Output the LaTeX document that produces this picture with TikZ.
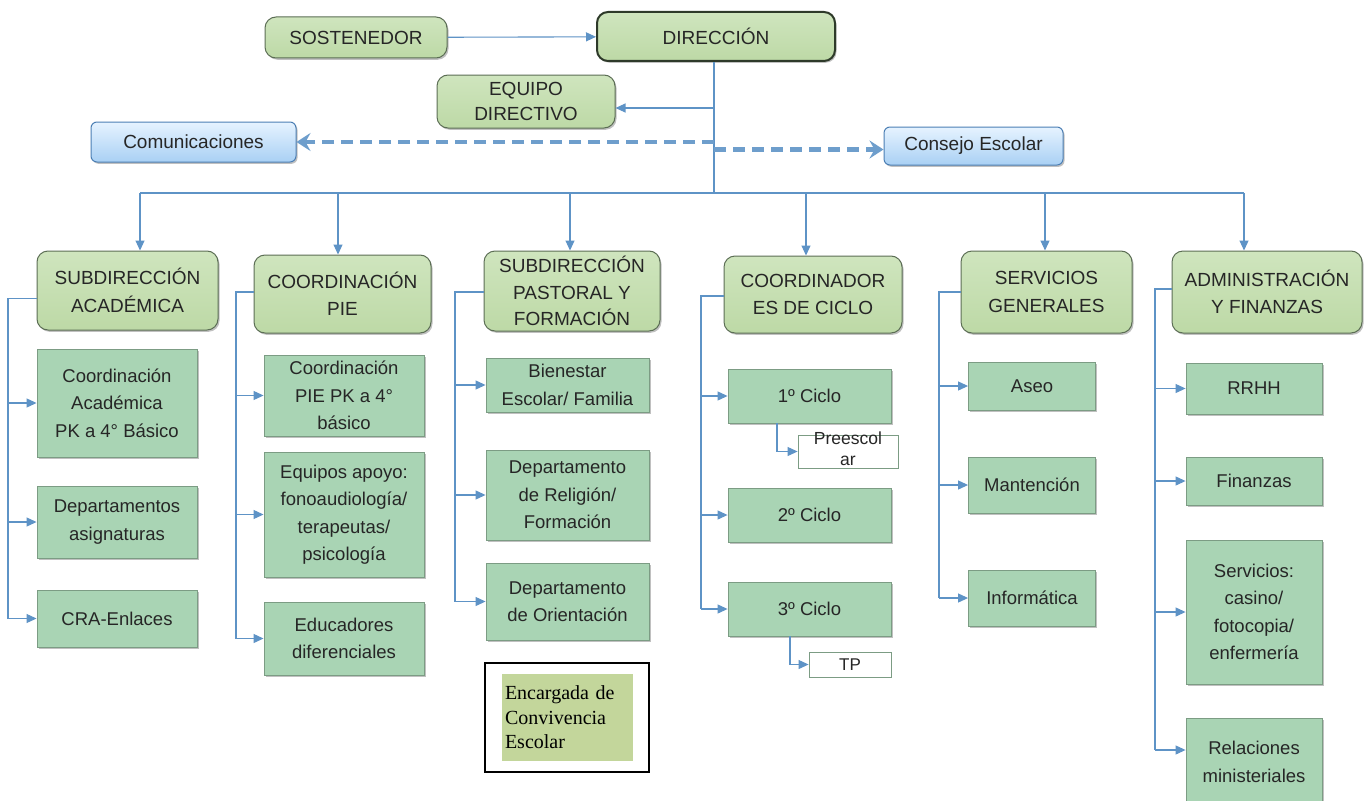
\documentclass[tikz,border=0pt]{standalone}
\usepackage{fontspec}
\setmainfont{Liberation Sans}
\newfontfamily\timesfont{Liberation Serif}
\usetikzlibrary{arrows.meta,shadows,calc}
\definecolor{connc}{HTML}{5E93C6}
\definecolor{hdrA}{HTML}{CFE5BE}
\definecolor{hdrB}{HTML}{BDD9A6}
\definecolor{hdrD}{HTML}{5C6E55}
\definecolor{dirD}{HTML}{2E3A2A}
\definecolor{subF}{HTML}{A9D4B4}
\definecolor{subD}{HTML}{7C9C84}
\definecolor{bluA}{HTML}{E6F3FF}
\definecolor{bluB}{HTML}{A9D0F4}
\definecolor{bluD}{HTML}{4C7FB4}
\definecolor{txt}{HTML}{262626}
\definecolor{encF}{HTML}{C3D69B}
\begin{document}
\begin{tikzpicture}[x=1pt,y=-1pt,
  shd/.style={drop shadow={shadow xshift=1.5pt,shadow yshift=-1.8pt,opacity=.35,fill=black!70}},
  hdr/.style={shd,rounded corners=11pt,top color=hdrA,bottom color=hdrB,draw=hdrD,line width=1pt,
    align=center,text=txt,font=\fontsize{19}{27.5}\selectfont,inner sep=2pt},
  subbox/.style={shd,fill=subF,draw=subD,line width=0.9pt,align=center,text=txt,
    font=\fontsize{18.5}{27.5}\selectfont,inner sep=2pt},
  whitebox/.style={fill=white,draw=subD,line width=0.9pt,align=center,text=txt,
    font=\fontsize{17}{18}\selectfont,inner sep=0pt},
  bluebox/.style={shd,rounded corners=6pt,top color=bluA,bottom color=bluB,draw=bluD,line width=1pt,
    align=center,text=txt,font=\fontsize{19}{24}\selectfont,inner sep=2pt},
  conn/.style={draw=connc,line width=1.1pt},
  arr/.style={conn,-{Triangle[length=10pt,width=9pt]}},
  dasharr/.style={draw=connc!90,line width=4.6pt,dash pattern=on 12pt off 7pt,
    -{Stealth[length=14pt,width=18pt,inset=5pt]}}
]
\useasboundingbox (0,0) rectangle (1372,800);
\fill[white] (0,0) rectangle (1372,800);

% top
\node[hdr,minimum width=182pt,minimum height=41pt] (sost) at (356,37.5) {SOSTENEDOR};
\node[hdr,draw=dirD,line width=2pt,minimum width=238pt,minimum height=49pt] (dir) at (716,36.5) {DIRECCIÓN};
\node[hdr,minimum width=178pt,minimum height=53pt,font=\fontsize{19}{25}\selectfont] (eq) at (526,101.5) {EQUIPO\\DIRECTIVO};
\node[bluebox,minimum width=205pt,minimum height=40pt] (com) at (193.5,142) {Comunicaciones};
\node[bluebox,minimum width=179pt,minimum height=38pt] (cons) at (973.5,146) {Consejo Escolar};

% headers
\node[hdr,minimum width=181pt,minimum height=79pt] (sa) at (127.5,290.5) {SUBDIRECCIÓN\\ACADÉMICA};
\node[hdr,minimum width=177pt,minimum height=78pt] (cp) at (342.5,294) {COORDINACIÓN\\PIE};
\node[hdr,minimum width=176pt,minimum height=80pt,font=\fontsize{19}{26.5}\selectfont] (sp) at (572,291) {SUBDIRECCIÓN\\PASTORAL Y\\FORMACIÓN};
\node[hdr,minimum width=178pt,minimum height=77pt] (cc) at (813,294.5) {COORDINADOR\\ES DE CICLO};
\node[hdr,minimum width=171pt,minimum height=82pt] (sg) at (1046.5,292) {SERVICIOS\\GENERALES};
\node[hdr,minimum width=190pt,minimum height=82pt] (af) at (1267,292) {ADMINISTRACIÓN\\Y FINANZAS};

% column 1
\node[subbox,minimum width=160pt,minimum height=108pt] (a1) at (117,403) {Coordinación\\Académica\\PK a 4° Básico};
\node[subbox,minimum width=160pt,minimum height=72pt] (a2) at (117,522) {Departamentos\\asignaturas};
\node[subbox,minimum width=160pt,minimum height=57pt] (a3) at (117,618.5) {CRA-Enlaces};
% column 2
\node[subbox,minimum width=160pt,minimum height=81pt] (b1) at (344,395.5) {Coordinación\\PIE PK a 4°\\básico};
\node[subbox,minimum width=160pt,minimum height=125pt] (b2) at (344,514.5) {Equipos apoyo:\\fonoaudiología/\\terapeutas/\\psicología};
\node[subbox,minimum width=160pt,minimum height=73pt] (b3) at (344,638.5) {Educadores\\diferenciales};
% column 3
\node[subbox,minimum width=163pt,minimum height=54pt] (c1) at (567.5,385) {Bienestar\\Escolar/ Familia};
\node[subbox,minimum width=163pt,minimum height=90pt] (c2) at (567.5,495) {Departamento\\de Religión/\\Formación};
\node[subbox,minimum width=163pt,minimum height=77pt] (c3) at (567.5,601.5) {Departamento\\de Orientación};
\node[draw=black,line width=1.5pt,fill=white,minimum width=164pt,minimum height=109pt] (encb) at (567,717.5) {};
\node[fill=encF,minimum width=131pt,minimum height=87pt,text width=125pt,align=left,inner sep=3pt,
  font=\timesfont\fontsize{20}{24.5}\selectfont,text=black] (enc) at (567.5,717.5) {Encargada de\\Convivencia\\Escolar};
% column 4
\node[subbox,minimum width=163pt,minimum height=54pt] (d1) at (809.5,396) {1º Ciclo};
\node[whitebox,minimum width=100pt,minimum height=33pt] (pre) at (848,451.5)
  {\raisebox{-4pt}[0pt][0pt]{\fontsize{17.5}{21}\selectfont\begin{tabular}{@{}c@{}}Preescol\\ar\end{tabular}}};
\node[subbox,minimum width=163pt,minimum height=54pt] (d2) at (809.5,515) {2º Ciclo};
\node[subbox,minimum width=163pt,minimum height=54pt] (d3) at (809.5,609) {3º Ciclo};
\node[whitebox,minimum width=82pt,minimum height=25pt] (tp) at (850,664.5) {TP};
% column 5
\node[subbox,minimum width=127pt,minimum height=48pt] (e1) at (1032,386) {Aseo};
\node[subbox,minimum width=127pt,minimum height=56pt] (e2) at (1032,485) {Mantención};
\node[subbox,minimum width=127pt,minimum height=56pt] (e3) at (1032,598) {Informática};
% column 6
\node[subbox,minimum width=136pt,minimum height=51pt] (f1) at (1254,388.5) {RRHH};
\node[subbox,minimum width=136pt,minimum height=48pt] (f2) at (1254,481) {Finanzas};
\node[subbox,minimum width=136pt,minimum height=144pt] (f3) at (1254,612) {Servicios:\\casino/\\fotocopia/\\enfermería};
\node[subbox,minimum width=136pt,minimum height=88pt] (f4) at (1254,762) {Relaciones\\ministeriales};

% top connectors
\draw[arr] (sost) -- (dir);
\coordinate (bus) at (714,193);
\draw[conn] (dir.south -| bus) -- (bus);
\coordinate (eqj) at ([yshift=-6.5pt]eq.east);
\draw[arr] (eqj -| bus) -- (eqj);
\coordinate (dl) at (714,142);
\coordinate (dr) at (714,149.5);
\draw[dasharr] (dl) -- (com.east);
\coordinate (consj) at ([yshift=-3.5pt]cons.west);
\draw[dasharr] (dr) -- (consj);
% bus
\coordinate (bl) at (140,193);
\coordinate (br) at (1244,193);
\draw[conn] (bl) -- (br);
\foreach \x/\n in {140/sa,338/cp,570/sp,806/cc,1045/sg,1244/af}{
  \coordinate (t\n) at (\x,193);
  \draw[arr] (t\n) -- (t\n |- \n.north);
}

% column brackets
\coordinate (ka) at (8,0);
\coordinate (sa-l) at ([yshift=-8pt]sa.west);
\draw[conn] (sa-l) -- (sa-l -| ka) -- (ka |- a3.west);
\foreach \n in {a1,a2,a3}{\draw[arr] (ka |- \n.west) -- (\n.west);}

\coordinate (kb) at (236,0);
\coordinate (cp-l) at ([yshift=2pt]cp.west);
\draw[conn] (cp-l) -- (cp-l -| kb) -- (kb |- b3.west);
\foreach \n in {b1,b2,b3}{\draw[arr] (kb |- \n.west) -- (\n.west);}

\coordinate (kc) at (455,0);
\coordinate (sp-l) at ([yshift=-1pt]sp.west);
\draw[conn] (sp-l) -- (sp-l -| kc) -- (kc |- c3.west);
\foreach \n in {c1,c2,c3}{\draw[arr] (kc |- \n.west) -- (\n.west);}

\coordinate (kd) at (701,0);
\coordinate (cc-l) at ([yshift=-1.5pt]cc.west);
\draw[conn] (cc-l) -- (cc-l -| kd) -- (kd |- d3.west);
\foreach \n in {d1,d2,d3}{\draw[arr] (kd |- \n.west) -- (\n.west);}
\coordinate (pk) at (777,0);
\draw[arr] (d1.south -| pk) -- (pk |- pre.west) -- (pre.west);
\coordinate (tk) at (790,0);
\draw[arr] (d3.south -| tk) -- (tk |- tp.west) -- (tp.west);

\coordinate (ke) at (939,0);
\draw[conn] (sg.west) -- (sg.west -| ke) -- (ke |- e3.west);
\foreach \n in {e1,e2,e3}{\draw[arr] (ke |- \n.west) -- (\n.west);}

\coordinate (kf) at (1155,0);
\coordinate (af-l) at ([yshift=3pt]af.west);
\coordinate (f4j) at ([yshift=12pt]f4.west);
\draw[conn] (af-l) -- (af-l -| kf) -- (kf |- f4j);
\foreach \n in {f1,f2,f3}{\draw[arr] (kf |- \n.west) -- (\n.west);}
\draw[arr] (kf |- f4j) -- (f4j);
\end{tikzpicture}
\end{document}
